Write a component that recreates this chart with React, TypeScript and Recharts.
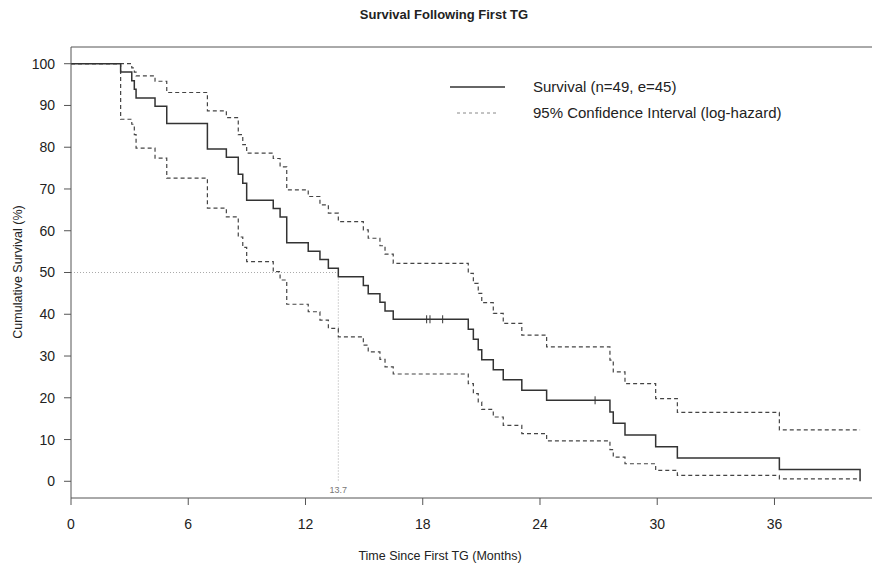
import { ComposedChart, Line, Scatter, XAxis, YAxis, ReferenceLine } from "recharts";

// Kaplan-Meier step times (months) and values (%)
const times = [0, 2.54, 3.11, 3.24, 3.33, 4.3, 4.9, 6.98, 7.95, 8.56, 8.79, 8.99, 10.35, 10.7, 11.04, 12.14, 12.74, 13.17, 13.68, 14.96, 15.21, 15.81, 16.07, 16.49, 20.33, 20.59, 20.84, 21.02, 21.61, 22.12, 23.07, 24.34, 27.58, 27.75, 28.35, 29.92, 31.03, 36.25, 40.38];
const survival = [100, 98.0, 95.9, 93.9, 91.8, 89.8, 85.7, 79.6, 77.6, 73.5, 71.4, 67.3, 65.3, 63.3, 57.1, 55.1, 53.1, 51.0, 49.0, 46.9, 44.9, 42.9, 40.8, 38.8, 36.4, 34.0, 31.5, 29.1, 26.7, 24.3, 21.8, 19.4, 16.6, 13.9, 11.1, 8.3, 5.6, 2.8, 0];
const upperCI = [100, 100, 99.0, 98.0, 97.1, 95.8, 93.1, 88.7, 87.1, 83.0, 80.6, 78.6, 77.3, 75.3, 69.8, 68.2, 66.2, 64.2, 62.2, 60.2, 58.2, 56.4, 54.4, 52.2, 49.8, 47.4, 45.0, 42.8, 40.2, 37.8, 35.0, 32.2, 29.0, 26.2, 23.4, 19.8, 16.5, 12.3, 12.3];
const lowerCI = [100, 86.7, 85.5, 83.0, 79.8, 77.4, 72.6, 65.4, 63.3, 58.5, 56.0, 52.6, 50.2, 48.2, 42.4, 40.6, 38.6, 36.6, 34.6, 32.6, 31.0, 29.2, 27.4, 25.7, 23.4, 21.0, 19.0, 17.2, 15.4, 13.4, 11.4, 9.7, 7.6, 5.8, 4.2, 2.6, 1.4, 0.6, 0.6];

// censored observations
const censorTimes = [18.2, 18.37, 19.02, 26.82];
const censorValues = [38.8, 38.8, 38.8, 19.4];

const medianTime = 13.68;
const medianLabel = "13.7";

const xTicks = [0, 6, 12, 18, 24, 30, 36];
const yTicks = [0, 10, 20, 30, 40, 50, 60, 70, 80, 90, 100];

const data = times.map((t, i) => ({ t, s: survival[i], hi: upperCI[i], lo: lowerCI[i] }));
const censored = censorTimes.map((t, i) => ({ t, s: censorValues[i] }));

const FONT = '"Liberation Sans", Arial, sans-serif';

const CensorMark = (props: any) => {
  const { cx, cy } = props;
  return <line x1={cx} x2={cx} y1={cy - 4} y2={cy + 4} stroke="#333" strokeWidth={1} />;
};

export default function App() {
  return (
    <div style={{ position: "relative", width: 872, height: 560, fontFamily: FONT, color: "#222" }}>
      <div style={{ position: "absolute", top: -1, left: 0, width: 872, textAlign: "center", fontWeight: "bold", fontSize: 13 }}>
        Survival Following First TG
      </div>
      <ComposedChart width={872} height={560} data={data} margin={{ top: 39, right: 0, bottom: 30, left: 0 }}>
        <XAxis
          dataKey="t"
          type="number"
          domain={[0, 41.4]}
          ticks={xTicks}
          allowDataOverflow
          height={40}
          tickSize={7}
          tickMargin={14}
          stroke="#555"
          tick={{ fill: "#222", fontSize: 14, fontFamily: FONT }}
        />
        <YAxis
          type="number"
          domain={[-4, 104]}
          ticks={yTicks}
          allowDataOverflow
          width={63}
          tickSize={7}
          tickMargin={9}
          stroke="#555"
          tick={{ fill: "#222", fontSize: 14, fontFamily: FONT }}
        />
        <ReferenceLine y={104} stroke="#555" />
        <ReferenceLine
          segment={[{ x: 0, y: 50 }, { x: medianTime, y: 50 }]}
          stroke="#aaa"
          strokeDasharray="1 2"
        />
        <ReferenceLine
          segment={[{ x: medianTime, y: 50 }, { x: medianTime, y: 0 }]}
          stroke="#aaa"
          strokeDasharray="1 2"
          label={{ value: medianLabel, position: "bottom", offset: 5, fontSize: 9, fill: "#777", fontFamily: FONT }}
        />
        <Line type="stepAfter" dataKey="hi" stroke="#444" strokeWidth={1.2} strokeDasharray="4 3" dot={false} isAnimationActive={false} />
        <Line type="stepAfter" dataKey="lo" stroke="#444" strokeWidth={1.2} strokeDasharray="4 3" dot={false} isAnimationActive={false} />
        <Line type="stepAfter" dataKey="s" stroke="#333" strokeWidth={1.5} dot={false} isAnimationActive={false} />
        <Scatter data={censored} dataKey="s" shape={<CensorMark />} isAnimationActive={false} />
      </ComposedChart>
      <div style={{ position: "absolute", left: 0, top: 264, width: 20, height: 0 }}>
        <div style={{ position: "absolute", left: 10, top: 0, transform: "translate(-50%, -50%) rotate(-90deg)", whiteSpace: "nowrap", fontSize: 12.5 }}>
          Cumulative Survival (%)
        </div>
      </div>
      <div style={{ position: "absolute", left: 0, top: 541, width: 864, textAlign: "center", fontSize: 12.5 }}>
        Time Since First TG (Months)
      </div>
      <div style={{ position: "absolute", left: 442, top: 66, fontSize: 15, lineHeight: "26px" }}>
        <div style={{ display: "flex", alignItems: "center" }}>
          <svg width={83} height={10}>
            <line x1={0} x2={55} y1={5} y2={5} stroke="#333" strokeWidth={1.5} />
          </svg>
          <span>Survival (n=49, e=45)</span>
        </div>
        <div style={{ display: "flex", alignItems: "center" }}>
          <svg width={83} height={10}>
            <line x1={7} x2={48} y1={5} y2={5} stroke="#888" strokeWidth={1} strokeDasharray="3 3" />
          </svg>
          <span>95% Confidence Interval (log-hazard)</span>
        </div>
      </div>
    </div>
  );
}
